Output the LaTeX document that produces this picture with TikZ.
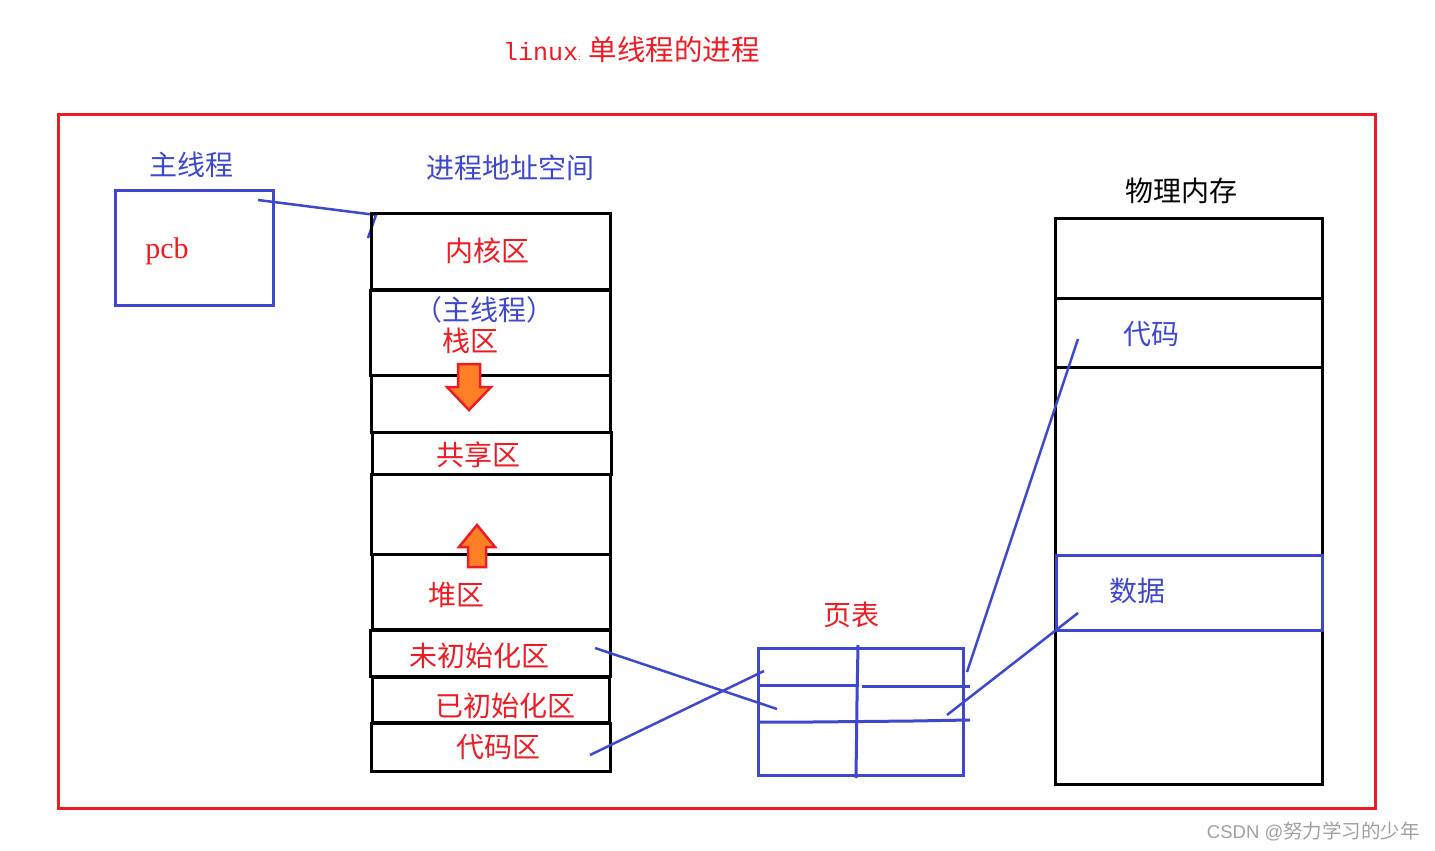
\documentclass[tikz,border=0pt]{standalone}
\usepackage{fontspec}
\newfontfamily\cjk{Noto Sans CJK SC}
\newfontfamily\monof{Liberation Mono}
\newfontfamily\seriff{Liberation Serif}
\newfontfamily\sansf{Liberation Sans}
\definecolor{pred}{RGB}{237,28,36}
\definecolor{pblue}{RGB}{63,72,204}
\definecolor{porange}{RGB}{255,127,39}
\definecolor{wgray}{RGB}{160,160,160}
\begin{document}
\begin{tikzpicture}[x=1pt,y=-1pt,
  lbl/.style={inner sep=0pt,font=\cjk\fontsize{28}{30}\selectfont},
  rlbl/.style={lbl,text=pred},
  blbl/.style={lbl,text=pblue},
  klbl/.style={lbl,text=black},
  cellbox/.style={draw=black,line width=3pt},
  bluebox/.style={draw=pblue,line width=3pt},
  link/.style={draw=pblue,line width=2.5pt},
  growarrow/.style={draw=pred,fill=porange,line width=2.5pt,line join=miter}]
\useasboundingbox (0,0) rectangle (1435,851);
\fill[white] (0,0) rectangle (1435,851);

% title
\node[inner sep=0pt,text=pred,anchor=base west] (title) at (503,61)
  {{\monof\fontsize{25}{26}\selectfont linux}{\fontsize{10}{10}\selectfont ;}\hspace{8pt}{\cjk\fontsize{28.5}{30}\selectfont 单线程的进程}};

% outer frame
\draw[draw=pred,line width=3pt] (58,114) rectangle (1375,808);

% main thread pcb
\node[blbl] (mt) at (191,165) {主线程};
\draw[bluebox] (115,190) rectangle (273,305);
\node[inner sep=0pt,text=pred,font=\seriff\fontsize{30}{30}\selectfont] (pcb) at (167,251) {pcb};
\coordinate (pcbout) at (258,200);
\coordinate (asin) at (376,215);
\coordinate (astick) at (368,238);
\draw[link] (pcbout) -- (asin) -- (astick);

% address space
\node[blbl] (ashead) at (510,168) {进程地址空间};
\draw[cellbox] (371,213) rectangle (610,289);
\draw[cellbox] (370,290) rectangle (610,375);
\draw[cellbox] (371,375) rectangle (610,432);
\draw[cellbox] (372,432) rectangle (611,474);
\draw[cellbox] (371,474) rectangle (610,554);
\draw[cellbox] (372,554) rectangle (610,629);
\draw[cellbox] (370,630) rectangle (610,676);
\draw[cellbox] (372,677) rectangle (609,722);
\draw[cellbox] (371,723) rectangle (610,771);

\node[rlbl] (kern) at (487,251) {内核区};
\node[blbl] (stkth) at (484,310) {（主线程）};
\node[rlbl] (stk) at (470,341) {栈区};
\node[rlbl] (shr) at (478,455) {共享区};
\node[rlbl] (heap) at (456,595) {堆区};
\node[rlbl] (bss) at (479,656) {未初始化区};
\node[rlbl] (data) at (505,706) {已初始化区};
\node[rlbl] (code) at (498,747) {代码区};

% growth arrows
\draw[growarrow] (458,364) -- (480,364) -- (480,387) -- (491,387) -- (469,410) -- (447,387) -- (458,387) -- cycle;
\draw[growarrow] (477,525) -- (495,547) -- (486,547) -- (486,567) -- (468,567) -- (468,547) -- (459,547) -- cycle;

% page table
\node[rlbl] (pt) at (851,615) {页表};
\draw[bluebox] (758,648) rectangle (963,775);
\draw[bluebox] (758,685) -- (858,685);
\draw[bluebox] (862,686) -- (970,686);
\draw[bluebox] (758,722) -- (812,722) -- (913,721) -- (970,720);
\draw[bluebox] (858,645) -- (857,700) -- (856,778);

% physical memory
\node[klbl] (pm) at (1181,191) {物理内存};
\draw[cellbox] (1055,218) rectangle (1322,784);
\draw[cellbox] (1055,298) -- (1322,298);
\draw[cellbox] (1055,367) -- (1322,367);
\draw[bluebox] (1056,555) rectangle (1322,630);
\node[blbl] (pmcode) at (1151,334) {代码};
\node[blbl] (pmdata) at (1137,591) {数据};

% mapping lines
\coordinate (bssout) at (595,648);
\coordinate (ptr2) at (777,709);
\coordinate (codeout) at (590,755);
\coordinate (ptr1) at (764,671);
\coordinate (ptcode) at (967,672);
\coordinate (pmcodein) at (1078,339);
\coordinate (ptdata) at (947,715);
\coordinate (pmdatain) at (1078,613);
\draw[link] (bssout) -- (ptr2);
\draw[link] (codeout) -- (ptr1);
\draw[link] (ptcode) -- (pmcodein);
\draw[link] (ptdata) -- (pmdatain);

% watermark
\node[inner sep=0pt,text=wgray,anchor=east] (wm) at (1420,831)
  {{\sansf\fontsize{18.5}{19}\selectfont CSDN @}{\cjk\fontsize{19.5}{20}\selectfont 努力学习的少年}};
\end{tikzpicture}
\end{document}
